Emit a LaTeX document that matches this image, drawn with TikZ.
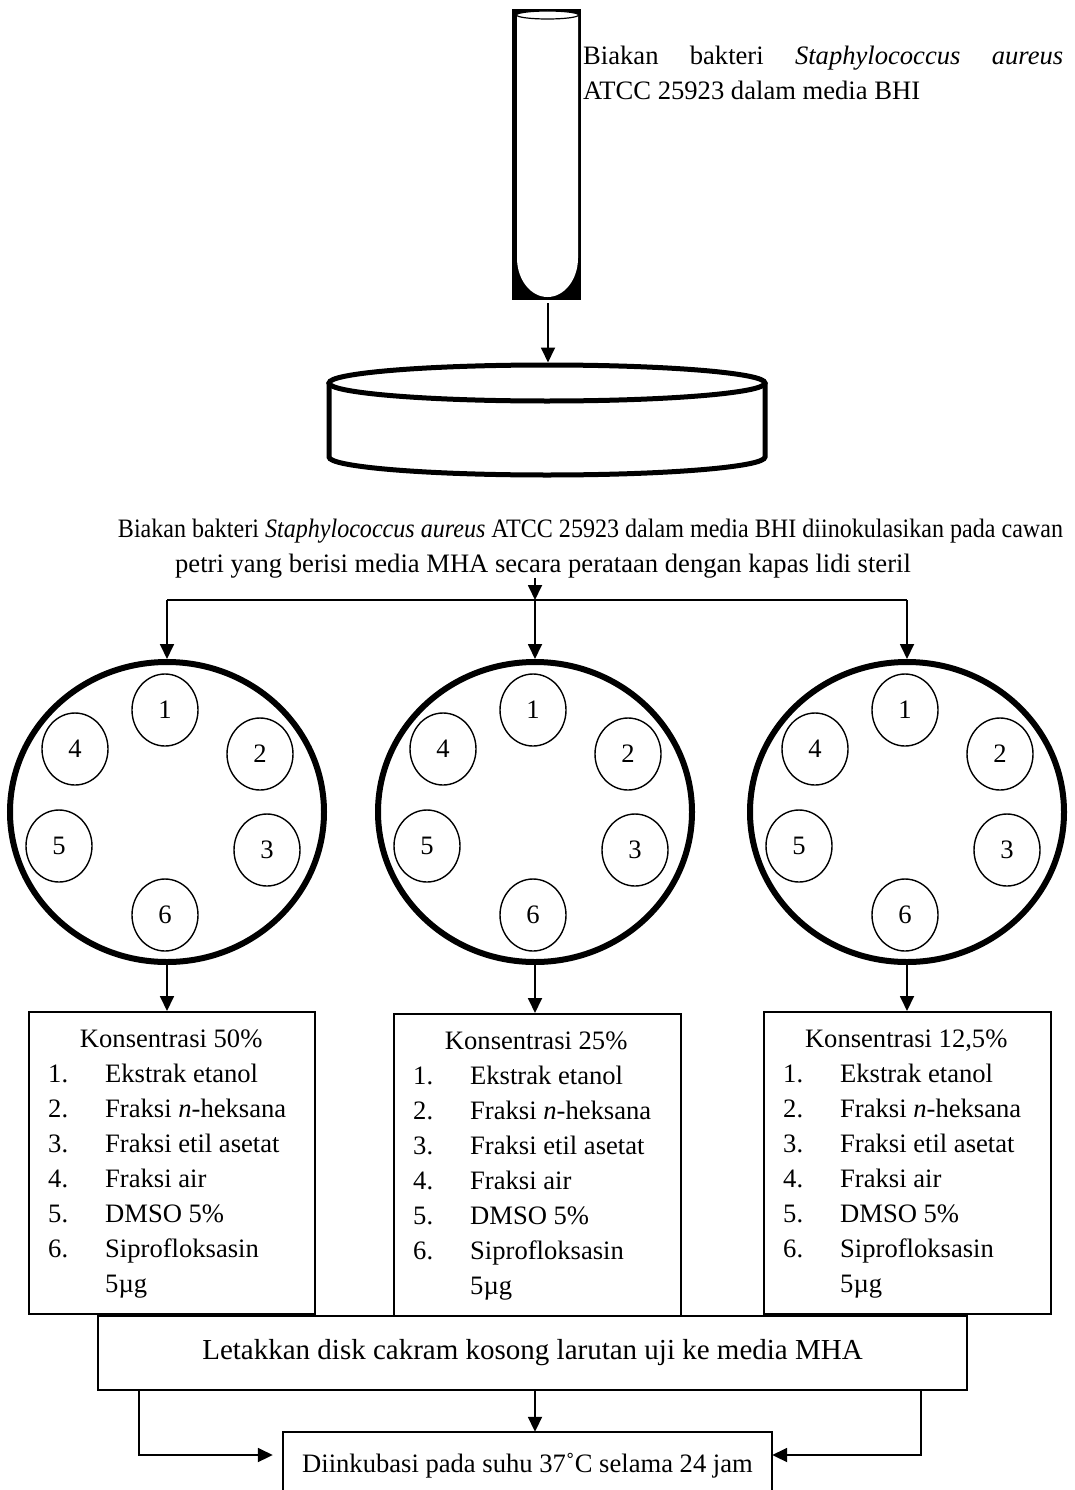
\documentclass[tikz,border=0pt]{standalone}
\usepackage{fontspec}
\usepackage{graphicx}
\setmainfont{Liberation Serif}
\usetikzlibrary{arrows.meta,shapes.geometric,calc}

% numbered entry of a concentration list
\newcommand\lnum[1]{\makebox[57pt][l]{#1}}

\begin{document}
\begin{tikzpicture}[x=1pt,y=-1pt,
  txt/.style={font=\fontsize{26.6}{35.1}\selectfont, inner sep=0pt},
  link/.style={line width=1.8pt},
  arr/.style={line width=1.8pt, -{Triangle[length=15pt,width=14pt]}},
  dish/.style={ellipse, draw, line width=6pt, minimum width=314pt,
    minimum height=300pt, inner sep=0pt},
  well/.style={ellipse, draw, line width=1.4pt, minimum width=66pt,
    minimum height=72pt, inner sep=0pt, font=\fontsize{26.6}{30}\selectfont},
  listbox/.style={draw, line width=1.8pt, minimum height=302pt,
    anchor=north west, inner sep=0pt},
  listtext/.style={txt, anchor=north west, align=left}]

\useasboundingbox (0,0) rectangle (1075,1490);
\clip (0,0) rectangle (1075,1490);

% test tube with culture
\fill[black] (512,9) rectangle (581,300);
\fill[white] (517,15) -- (517,258)
  arc[start angle=180, end angle=0, x radius=30.5, y radius=39] -- (578,15) -- cycle;
\draw[line width=1.2pt, fill=white] (547.5,15) ellipse [x radius=31, y radius=4];
\coordinate (tubebot) at (548,303);

\node[listtext] (tubetext) at (583,39.4)
  {\makebox[480pt][s]{\strut Biakan bakteri \textit{Staphylococcus} \textit{aureus}}\\
   ATCC 25923 dalam media BHI};

% petri dish (side view)
\fill[white] (329,383) -- (329,457)
  arc[start angle=180, end angle=0, x radius=218, y radius=18] -- (765,383) -- cycle;
\draw[line width=5pt] (329,383) -- (329,457)
  arc[start angle=180, end angle=0, x radius=218, y radius=18] -- (765,383);
\draw[line width=5pt, fill=white] (547,383) ellipse [x radius=218, y radius=18];
\coordinate (dishtop) at (548,362.5);
\draw[arr] (tubebot) -- (dishtop);

% inoculation step (first line set condensed)
\node[txt, anchor=base] (inoc1) at (590.5,537)
  {\resizebox{945pt}{\height}{Biakan bakteri \textit{Staphylococcus aureus} ATCC 25923 dalam media BHI diinokulasikan pada cawan}};
\node[txt, anchor=base] (inoc2) at (543,572)
  {petri yang berisi media MHA secara perataan dengan kapas lidi steril};

% split into three plates
\coordinate (branch) at (535,600);
\draw[arr] (inoc2.south -| branch) -- (branch);

\foreach \d/\cx in {A/167,B/535,C/907} {
  \node[dish] (dish\d) at (\cx,812) {};
  \foreach \n/\dx/\dy in {1/-2/-102, 2/93/-58, 3/100/38, 4/-92/-63, 5/-108/34, 6/-2/103}
    \node[well] (\d\n) at (\cx+\dx,812+\dy) {\n};
}
\draw[link] (dishA.north |- branch) -- (dishC.north |- branch);
\foreach \d in {A,B,C}
  \draw[arr] (dish\d.north |- branch) -- (dish\d.north);

% concentration lists
\node[listbox, minimum width=286pt] (boxA) at (28,1011) {};
\node[listbox, minimum width=287pt] (boxB) at (393,1013) {};
\node[listbox, minimum width=287pt] (boxC) at (763,1011) {};

\foreach \d/\c in {A/50\%, B/25\%, C/{12,5\%}} {
  \draw[arr] (dish\d.south) -- (dish\d.south |- box\d.north);
  \node[listtext] (text\d) at ($(box\d.north west)+(20,11.4)$)
    {\makebox[246pt]{\strut Konsentrasi \c}\\
     \lnum{1.}Ekstrak etanol\\
     \lnum{2.}Fraksi \textit{n}-heksana\\
     \lnum{3.}Fraksi etil asetat\\
     \lnum{4.}Fraksi air\\
     \lnum{5.}DMSO 5\%\\
     \lnum{6.}Siprofloksasin\\
     \lnum{}5µg};
}

% placing the discs and incubation
\node[draw, line width=1.8pt, minimum width=869pt, minimum height=74pt,
  inner sep=0pt, font=\fontsize{29}{35}\selectfont] (place) at (532.5,1353)
  {Letakkan disk cakram kosong larutan uji ke media MHA};

\node[txt, minimum width=489pt, minimum height=68pt] (incub) at (527.5,1466)
  {Diinkubasi pada suhu 37˚C selama 24 jam};
\draw[link] (incub.south west) -- (incub.north west) -- (incub.north east) -- (incub.south east);

\coordinate (midx) at (535,0);
\coordinate (lx) at (139,0);
\coordinate (rx) at (921,0);
\coordinate (yarr) at (0,1455);
\draw[arr] (place.south -| midx) -- (incub.north -| midx);
\draw[arr, shorten >=10pt] (place.south -| lx) |- (incub.west |- yarr);
\draw[arr] (place.south -| rx) |- (incub.east |- yarr);

\end{tikzpicture}
\end{document}
